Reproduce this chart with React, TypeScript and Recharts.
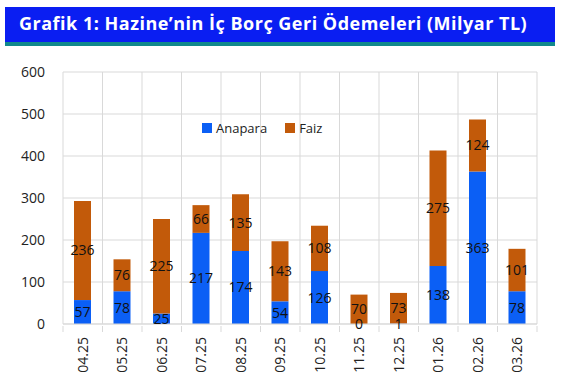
import React from 'react'
import { BarChart, Bar, XAxis, YAxis, CartesianGrid, Legend, LabelList } from 'recharts'

const categories = ['04.25', '05.25', '06.25', '07.25', '08.25', '09.25', '10.25', '11.25', '12.25', '01.26', '02.26', '03.26']
const anapara = [57, 78, 25, 217, 174, 54, 126, 0, 1, 138, 363, 78]
const faiz = [236, 76, 225, 66, 135, 143, 108, 70, 73, 275, 124, 101]
const yTicks = [0, 100, 200, 300, 400, 500, 600]

const data = categories.map((month, i) => ({ month, anapara: anapara[i], faiz: faiz[i] }))

const W = 563
const H = 379
const M = { top: 72, right: 26, left: 0, bottom: 0 }
const Y_W = 63
const BAND = (W - Y_W - M.right - M.left) / categories.length
const GRID = '#d9d9d9'
const BLUE = '#0B5FF5'
const ORANGE = '#C25A0A'
const FONT = '"Open Sans", sans-serif'

const XTick = (props: any) => {
  const { x, y, payload, index } = props
  const last = index === categories.length - 1
  return (
    <g>
      <line x1={x - BAND / 2} x2={x - BAND / 2} y1={y} y2={y + 6} stroke={GRID} />
      {last && <line x1={x + BAND / 2} x2={x + BAND / 2} y1={y} y2={y + 6} stroke={GRID} />}
      <text
        x={x}
        y={y + 11}
        transform={`rotate(-90, ${x}, ${y + 11})`}
        textAnchor="end"
        dy="0.36em"
        fontSize={14}
        fontFamily={FONT}
        fill="#222"
      >
        {payload.value}
      </text>
    </g>
  )
}

// zero-height box so the legend reserves no room in the chart
const LegendBox = (props: any) => {
  const items = props.payload || []
  return (
    <div style={{ height: 0, overflow: 'visible' }}>
      <div style={{ display: 'flex', alignItems: 'center', fontFamily: FONT, fontSize: 13, color: '#222' }}>
        {items.map((it: any, i: number) => (
          <div key={i} style={{ display: 'flex', alignItems: 'center', marginRight: 18 }}>
            <span style={{ width: 10, height: 10, background: it.color, display: 'inline-block', marginRight: 4 }} />
            <span>{it.value}</span>
          </div>
        ))}
      </div>
    </div>
  )
}

export default function App() {
  return (
    <div style={{ position: 'absolute', left: 0, top: 0, width: W, height: H, background: '#fff' }}>
      <div
        style={{
          position: 'absolute',
          left: 5,
          top: 7,
          width: 536,
          height: 35,
          background: '#0A1EF2',
          borderBottom: '4px solid #11898C',
          color: '#fff',
          fontFamily: FONT,
          fontWeight: 700,
          fontSize: 18,
          letterSpacing: 0.5,
          lineHeight: '33px',
          paddingLeft: 14,
          boxSizing: 'content-box',
          whiteSpace: 'nowrap',
        }}
      >
        Grafik 1: Hazine’nin İç Borç Geri Ödemeleri (Milyar TL)
      </div>
      <div style={{ position: 'absolute', left: 0, top: 0 }}>
        <BarChart width={W} height={H} data={data} margin={M} barSize={17}>
          <CartesianGrid
            stroke={GRID}
            verticalCoordinatesGenerator={({ offset }: any) =>
              categories.map((_, i) => offset.left + (i * offset.width) / categories.length).concat(offset.left + offset.width)
            }
          />
          <XAxis
            dataKey="month"
            height={55}
            interval={0}
            tickLine={false}
            tickSize={0}
            axisLine={{ stroke: GRID }}
            tick={<XTick />}
          />
          <YAxis
            width={Y_W}
            domain={[0, 600]}
            ticks={yTicks}
            axisLine={false}
            tickLine={false}
            tickSize={0}
            tickMargin={18}
            tick={{ fontSize: 14, fill: '#222', fontFamily: FONT }}
          />
          <Legend content={<LegendBox />} wrapperStyle={{ position: 'absolute', left: 202, top: 119, width: 'auto' }} />
          <Bar dataKey="anapara" name="Anapara" stackId="a" fill={BLUE} minPointSize={0.01} isAnimationActive={false}>
            <LabelList dataKey="anapara" position="center" fill="#111" fontSize={14} fontFamily={FONT} />
          </Bar>
          <Bar dataKey="faiz" name="Faiz" stackId="a" fill={ORANGE} isAnimationActive={false}>
            <LabelList dataKey="faiz" position="center" fill="#111" fontSize={14} fontFamily={FONT} />
          </Bar>
        </BarChart>
      </div>
    </div>
  )
}
